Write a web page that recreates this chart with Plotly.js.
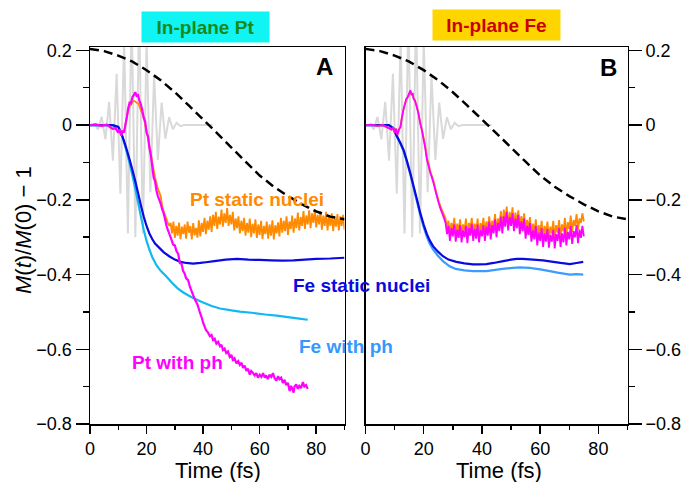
<!DOCTYPE html>
<html>
<head>
<meta charset="utf-8">
<script src="https://cdn.plot.ly/plotly-3.0.1.min.js"></script>
<style>html,body{margin:0;padding:0;background:#fff}#chart{width:684px;height:482px}</style>
</head>
<body>
<div id="chart"></div>
<script>
// ---------- DATA ----------
// Laser pulse (gray), shared by both panels: extremes of the field
const tPulse = [0,2.0,2.8,4.12,5.45,6.77,8.1,9.42,10.75,12.07,13.4,14.72,16.05,17.37,18.7,20.02,21.35,22.67,24.0,25.32,26.65,27.97,29.3,30.62,31.95,33.3,43.3];
const vPulse = [0,0,-0.012,0.022,-0.038,0.062,-0.095,0.137,-0.184,0.232,-0.29,0.30,-0.30,0.30,-0.29,0.228,-0.18,0.134,-0.093,0.06,-0.037,0.021,-0.011,0.006,-0.003,0,0];

// Dashed black reference curve
const tDash = [0,5,10,15,20,25,30,35,40,45,50,55,60,65,70,75,80,85,90];
const vDash = [0.204,0.198,0.186,0.17,0.147,0.12,0.088,0.052,0.015,-0.022,-0.06,-0.098,-0.135,-0.165,-0.19,-0.212,-0.231,-0.245,-0.252];

// ---- Panel A (In-plane Pt) ----
const tA_FeStatic = [0,8,10,11,12,13,14,15,16,17,18,19,20,21,22,23,24.7,26,28,30,32,34,36.5,39,41,44,48,52,56,60,64,68,72,76,80,85,90];
const vA_FeStatic = [0,0,-0.005,-0.02,-0.042,-0.066,-0.092,-0.12,-0.15,-0.182,-0.215,-0.245,-0.27,-0.29,-0.305,-0.317,-0.33,-0.34,-0.351,-0.36,-0.366,-0.369,-0.371,-0.369,-0.367,-0.364,-0.36,-0.358,-0.36,-0.361,-0.362,-0.363,-0.362,-0.36,-0.358,-0.357,-0.355];

const tA_FePh = [0,8,10,11,12,13,14,15,16,17,18,19,20,21,22,23.5,25,27,29,31,33,35.3,38,40,43,46,50,53,58,62,66,70,74,77];
const vA_FePh = [0,0,-0.005,-0.02,-0.045,-0.072,-0.102,-0.135,-0.17,-0.207,-0.245,-0.28,-0.31,-0.333,-0.353,-0.375,-0.39,-0.405,-0.422,-0.437,-0.448,-0.458,-0.468,-0.475,-0.484,-0.491,-0.496,-0.499,-0.503,-0.507,-0.51,-0.514,-0.518,-0.521];

const tA_PtPh = [0,2,4,6,7,8,9,10,10.5,11,11.5,12,12.5,13,13.5,14,14.5,15,15.5,16,16.5,17,17.5,18,18.5,19,19.5,20,20.5,21,21.5,22,22.5,23,23.5,24,24.5,25,25.5,26,26.5,27,27.5,28,28.5,29.4,30,30.6,31.2,31.8,32.4,32.9,33.5,34,34.7,35.3,36.2,37.1,38,38.8,39.5,40,
  41,41.7,42.4,43,43.5,44.1,44.7,45.3,46,46.5,47,47.6,48.2,48.8,49.4,50,50.5,51.1,51.8,52.4,53,53.6,54.1,54.7,55.3,55.9,56.5,57,57.5,58.2,58.8,59.4,60,60.6,61.2,61.8,62.3,62.9,63.5,64.1,64.7,65.3,65.9,66.5,67,67.6,68.2,68.8,69.4,70,70.6,71.1,71.5,72,72.3,72.9,73.5,74,74.6,75.3,75.8,76.4,77];
const vA_PtPh = [0,0.002,-0.002,0.001,-0.005,-0.01,-0.008,-0.02,-0.012,-0.028,-0.015,-0.02,0.0,0.02,0.045,0.06,0.058,0.075,0.08,0.088,0.078,0.08,0.065,0.055,0.04,0.02,0.01,-0.02,-0.03,-0.06,-0.08,-0.11,-0.14,-0.15,-0.175,-0.19,-0.2,-0.21,-0.225,-0.235,-0.25,-0.268,-0.28,-0.29,-0.3,-0.32,-0.322,-0.338,-0.345,-0.37,-0.372,-0.39,-0.398,-0.41,-0.415,-0.432,-0.45,-0.467,-0.48,-0.5,-0.515,-0.529,
  -0.548,-0.555,-0.565,-0.562,-0.575,-0.572,-0.585,-0.58,-0.592,-0.588,-0.602,-0.598,-0.61,-0.606,-0.62,-0.615,-0.628,-0.624,-0.638,-0.632,-0.642,-0.636,-0.65,-0.644,-0.658,-0.652,-0.668,-0.658,-0.662,-0.67,-0.664,-0.676,-0.668,-0.674,-0.664,-0.676,-0.67,-0.68,-0.668,-0.674,-0.664,-0.678,-0.684,-0.672,-0.68,-0.676,-0.69,-0.682,-0.696,-0.69,-0.712,-0.698,-0.705,-0.716,-0.7,-0.694,-0.706,-0.698,-0.704,-0.688,-0.7,-0.696,-0.706];

const tA_PtStaticHead = [0,2,4,6,7,8,9,10,10.5,11,11.5,12,12.5,13,13.5,14,14.5,15,15.5,16,16.5,17,17.5,18,18.5,19,19.5,20,20.5,21,21.5,22,22.5,23,23.5,24,24.5,25,25.5,26,26.5,27,27.5,28];
const vA_PtStaticHead = [0,0.002,-0.002,0.001,-0.005,-0.01,-0.008,-0.02,-0.012,-0.028,-0.015,-0.02,0.0,0.02,0.038,0.05,0.055,0.062,0.065,0.063,0.06,0.058,0.05,0.04,0.03,0.018,0.002,-0.015,-0.035,-0.055,-0.075,-0.1,-0.12,-0.14,-0.155,-0.17,-0.18,-0.19,-0.215,-0.23,-0.24,-0.25,-0.262,-0.27];
// fast-oscillating tail, sampled every 0.5 fs from 28.5 fs
const tA_PtStaticTail0 = 28.5;
const vA_PtStaticTail = [
-0.262,-0.29,-0.258,-0.302,-0.27,-0.296,-0.261,-0.305,-0.272,-0.292,
-0.266,-0.304,-0.258,-0.288,-0.27,-0.306,-0.262,-0.295,-0.275,-0.301,
-0.255,-0.298,-0.262,-0.286,-0.248,-0.292,-0.256,-0.28,-0.244,-0.286,
-0.24,-0.27,-0.232,-0.278,-0.245,-0.266,-0.226,-0.272,-0.236,-0.262,
-0.222,-0.27,-0.24,-0.266,-0.232,-0.282,-0.25,-0.276,-0.244,-0.29,
-0.256,-0.284,-0.248,-0.296,-0.262,-0.288,-0.25,-0.3,-0.264,-0.29,
-0.252,-0.302,-0.266,-0.294,-0.256,-0.305,-0.27,-0.292,-0.258,-0.304,
-0.266,-0.296,-0.255,-0.306,-0.268,-0.29,-0.26,-0.298,-0.248,-0.288,
-0.256,-0.284,-0.244,-0.294,-0.258,-0.278,-0.242,-0.288,-0.25,-0.276,
-0.234,-0.282,-0.246,-0.27,-0.23,-0.278,-0.242,-0.266,-0.228,-0.276,
-0.236,-0.262,-0.226,-0.274,-0.24,-0.266,-0.23,-0.28,-0.242,-0.27,
-0.232,-0.282,-0.244,-0.27,-0.236,-0.284,-0.246,-0.272,-0.238,-0.282,
-0.244,-0.27,-0.24,-0.28];

// ---- Panel B (In-plane Fe) ----
const tB_FeStatic = [0,8,9.5,10.8,12,13.1,14.2,15.4,16.5,17.7,18.8,20,21,22,23.2,24.8,26.6,28.5,31.2,34,36.9,39,41.5,44,47.3,50,51.9,54,57.6,61,64.5,67,70.2,72.5,74.8];
const vB_FeStatic = [0,0,-0.008,-0.03,-0.048,-0.067,-0.095,-0.129,-0.163,-0.2,-0.235,-0.267,-0.29,-0.308,-0.324,-0.338,-0.351,-0.36,-0.366,-0.37,-0.373,-0.373,-0.372,-0.369,-0.364,-0.36,-0.358,-0.358,-0.36,-0.362,-0.366,-0.369,-0.372,-0.369,-0.366];

const tB_FePh = [0,8,9.5,10.8,12,13.1,14.2,15.4,16.5,17.7,18.8,20,21,22,23.2,24.8,26.6,28.9,31,34,36.9,41.5,44,47,50.7,53,56.4,60,63.3,66,70.2,72.5,74.8];
const vB_FePh = [0,0,-0.008,-0.031,-0.05,-0.07,-0.098,-0.132,-0.167,-0.205,-0.24,-0.273,-0.297,-0.316,-0.333,-0.349,-0.364,-0.378,-0.385,-0.389,-0.391,-0.391,-0.388,-0.385,-0.382,-0.381,-0.382,-0.386,-0.391,-0.395,-0.4,-0.399,-0.4];

const tB_PtHead = [0,2,4,6,7,8,9,9.5,10,10.5,11,11.5,12,12.5,13,13.5,14,14.5,15,15.4,15.8,16.2,16.5,17,17.6,18.2,18.8,19.4,20,20.5,21.1,21.7,22.3,22.8,23.4,24,24.5,25.2,25.8,26.3,27];
const vB_PtPhHead = [0,0.001,-0.002,0.0,-0.004,-0.008,-0.012,-0.006,-0.02,-0.01,-0.025,-0.012,-0.005,0.02,0.04,0.055,0.07,0.075,0.085,0.093,0.082,0.084,0.071,0.065,0.049,0.03,0.004,-0.015,-0.04,-0.06,-0.093,-0.11,-0.129,-0.14,-0.156,-0.175,-0.19,-0.21,-0.225,-0.235,-0.25];
const vB_PtStaticHead = [0,0.001,-0.002,0.0,-0.004,-0.008,-0.012,-0.006,-0.02,-0.01,-0.025,-0.012,-0.005,0.02,0.04,0.055,0.068,0.074,0.083,0.09,0.082,0.083,0.072,0.066,0.05,0.032,0.007,-0.012,-0.036,-0.056,-0.088,-0.105,-0.124,-0.136,-0.15,-0.17,-0.185,-0.205,-0.218,-0.228,-0.24];
// fast-oscillating tails, sampled every 0.5 fs from 27.5 fs
const tB_Tail0 = 27.5;
const vB_PtPhTail = [
-0.262,-0.292,-0.27,-0.31,-0.276,-0.298,-0.266,-0.312,-0.28,-0.302,
-0.268,-0.314,-0.282,-0.3,-0.27,-0.316,-0.276,-0.296,-0.264,-0.31,
-0.278,-0.304,-0.266,-0.314,-0.28,-0.298,-0.268,-0.31,-0.272,-0.296,
-0.258,-0.306,-0.268,-0.29,-0.252,-0.3,-0.262,-0.284,-0.245,-0.29,
-0.244,-0.272,-0.232,-0.282,-0.246,-0.27,-0.236,-0.284,-0.25,-0.276,
-0.24,-0.292,-0.258,-0.284,-0.25,-0.304,-0.27,-0.294,-0.262,-0.312,
-0.282,-0.306,-0.27,-0.322,-0.288,-0.31,-0.276,-0.326,-0.29,-0.312,
-0.278,-0.328,-0.294,-0.312,-0.28,-0.33,-0.292,-0.31,-0.276,-0.326,
-0.29,-0.314,-0.274,-0.322,-0.286,-0.306,-0.27,-0.318,-0.284,-0.3,
-0.268,-0.316,-0.28,-0.302,-0.27,-0.298];
const vB_PtStaticTail = [
-0.25,-0.276,-0.256,-0.292,-0.262,-0.28,-0.248,-0.294,-0.264,-0.284,
-0.252,-0.296,-0.266,-0.282,-0.25,-0.294,-0.262,-0.278,-0.248,-0.292,
-0.264,-0.286,-0.25,-0.296,-0.262,-0.28,-0.248,-0.29,-0.258,-0.278,
-0.244,-0.288,-0.256,-0.272,-0.238,-0.284,-0.25,-0.268,-0.23,-0.276,
-0.226,-0.258,-0.218,-0.27,-0.232,-0.256,-0.22,-0.268,-0.234,-0.262,
-0.228,-0.276,-0.244,-0.268,-0.236,-0.288,-0.254,-0.278,-0.246,-0.296,
-0.264,-0.288,-0.252,-0.302,-0.268,-0.29,-0.256,-0.304,-0.27,-0.292,
-0.258,-0.306,-0.272,-0.29,-0.256,-0.302,-0.268,-0.288,-0.254,-0.298,
-0.266,-0.284,-0.248,-0.294,-0.26,-0.278,-0.242,-0.286,-0.254,-0.27,
-0.238,-0.28,-0.25,-0.262,-0.236,-0.258];

const xTicks = [0,20,40,60,80];
const yTicks = [0.2,0,-0.2,-0.4,-0.6,-0.8];

// ---------- helpers ----------
function tailTimes(t0, vals, step){ return vals.map((_, i) => t0 + i*step); }
const SAMPLE_STEP = 0.5;
const tA_Static = tA_PtStaticHead.concat(tailTimes(tA_PtStaticTail0, vA_PtStaticTail, SAMPLE_STEP));
const vA_Static = vA_PtStaticHead.concat(vA_PtStaticTail);
const tB_PtPh = tB_PtHead.concat(tailTimes(tB_Tail0, vB_PtPhTail, SAMPLE_STEP));
const vB_PtPh = vB_PtPhHead.concat(vB_PtPhTail);
const tB_PtSt = tB_PtHead.concat(tailTimes(tB_Tail0, vB_PtStaticTail, SAMPLE_STEP));
const vB_PtSt = vB_PtStaticHead.concat(vB_PtStaticTail);

const C = {
  gray:'#d9d9d9', orange:'#ff8a00', magenta:'#ff00ff', blue:'#0a0ae0',
  cyanA:'#12b8f0', lightB:'#3a9cff', black:'#000000'
};
function ln(x, y, color, xa, ya, w, dash){
  return {x:x, y:y, type:'scatter', mode:'lines', xaxis:xa, yaxis:ya, hoverinfo:'skip',
    line:{color:color, width:w||2, dash:dash||'solid', simplify:false}, showlegend:false};
}

const traces = [
  ln(tPulse, vPulse, C.gray, 'x', 'y', 2),
  ln(tA_FePh, vA_FePh, C.cyanA, 'x', 'y', 2.2),
  ln(tA_FeStatic, vA_FeStatic, C.blue, 'x', 'y', 2.2),
  ln(tA_Static, vA_Static, C.orange, 'x', 'y', 1.8),
  ln(tA_PtPh, vA_PtPh, C.magenta, 'x', 'y', 2.2),
  ln(tDash, vDash, C.black, 'x', 'y', 2.5, '9px,5px'),

  ln(tPulse, vPulse, C.gray, 'x2', 'y2', 2),
  ln(tB_FePh, vB_FePh, C.lightB, 'x2', 'y2', 2.2),
  ln(tB_FeStatic, vB_FeStatic, C.blue, 'x2', 'y2', 2.2),
  ln(tB_PtSt, vB_PtSt, C.orange, 'x2', 'y2', 1.8),
  ln(tB_PtPh, vB_PtPh, C.magenta, 'x2', 'y2', 1.8),
  ln(tDash, vDash, C.black, 'x2', 'y2', 2.5, '9px,5px')
];

const FONT = 'Liberation Sans, Arial, Helvetica, sans-serif';
const xBase = {
  range:[0,90], showgrid:false, zeroline:false, showline:true, mirror:true,
  linecolor:'#000', linewidth:1.5, ticks:'outside', ticklen:8, tickwidth:1.5, tickcolor:'#000',
  tickvals:xTicks, ticktext:xTicks.map(String), tickfont:{size:18, color:'#000', family:FONT},
  minor:{dtick:10, tick0:0, ticks:'outside', ticklen:4, tickwidth:1.5, tickcolor:'#000', showgrid:false},
  fixedrange:true
};
const yBase = {
  range:[-0.8,0.209], showgrid:false, zeroline:false, showline:true, mirror:true,
  linecolor:'#000', linewidth:1.5, ticks:'outside', ticklen:13, tickwidth:1.5, tickcolor:'#000',
  tickvals:yTicks, ticktext:yTicks.map(v => v === 0 ? '0' : (v < 0 ? '\u2212' + Math.abs(v).toFixed(1) : v.toFixed(1))),
  tickfont:{size:18, color:'#000', family:FONT},
  minor:{dtick:0.1, tick0:0, ticks:'outside', ticklen:6, tickwidth:1.5, tickcolor:'#000', showgrid:false},
  fixedrange:true
};

function px2x(p){ return p/684; }
function px2y(p){ return 1 - p/482; }

const annotations = [
  {text:'<b>In-plane Pt</b>', xref:'paper', yref:'paper', x:px2x(205.5), y:px2y(27), showarrow:false,
   font:{size:19, color:'#178a17', family:FONT}, bgcolor:'#10f4f4', width:127, height:30, borderpad:0, xanchor:'center', yanchor:'middle'},
  {text:'<b>In-plane Fe</b>', xref:'paper', yref:'paper', x:px2x(496.5), y:px2y(25), showarrow:false,
   font:{size:19, color:'#cc0000', family:FONT}, bgcolor:'#ffd500', width:127, height:30, borderpad:0, xanchor:'center', yanchor:'middle'},
  {text:'<b>A</b>', xref:'paper', yref:'paper', x:px2x(324), y:px2y(66.5), showarrow:false,
   font:{size:24, color:'#000', family:FONT}, xanchor:'center', yanchor:'middle'},
  {text:'<b>B</b>', xref:'paper', yref:'paper', x:px2x(608), y:px2y(67.5), showarrow:false,
   font:{size:24, color:'#000', family:FONT}, xanchor:'center', yanchor:'middle'},
  {text:'<b>Pt static nuclei</b>', xref:'paper', yref:'paper', x:px2x(257), y:px2y(199.5), showarrow:false,
   font:{size:19, color:C.orange, family:FONT}, xanchor:'center', yanchor:'middle'},
  {text:'<b>Fe static nuclei</b>', xref:'paper', yref:'paper', x:px2x(361.3), y:px2y(285.5), showarrow:false,
   font:{size:19, color:'#0a0ae0', family:FONT}, xanchor:'center', yanchor:'middle'},
  {text:'<b>Fe with ph</b>', xref:'paper', yref:'paper', x:px2x(345.5), y:px2y(346), showarrow:false,
   font:{size:19, color:'#3399ff', family:FONT}, xanchor:'center', yanchor:'middle'},
  {text:'<b>Pt with ph</b>', xref:'paper', yref:'paper', x:px2x(177.5), y:px2y(362), showarrow:false,
   font:{size:19, color:C.magenta, family:FONT}, xanchor:'center', yanchor:'middle'},
  {text:'<i>M</i>(<i>t</i>)/<i>M</i>(0) \u2212 1', xref:'paper', yref:'paper', x:px2x(23), y:px2y(230), showarrow:false,
   textangle:-90, font:{size:22, color:'#000', family:FONT}, xanchor:'center', yanchor:'middle'},
  {text:'Time (fs)', xref:'paper', yref:'paper', x:px2x(218), y:px2y(470), showarrow:false,
   font:{size:22, color:'#000', family:FONT}, xanchor:'center', yanchor:'middle'},
  {text:'Time (fs)', xref:'paper', yref:'paper', x:px2x(499), y:px2y(470), showarrow:false,
   font:{size:22, color:'#000', family:FONT}, xanchor:'center', yanchor:'middle'}
];

const layout = {
  width:684, height:482, margin:{l:0, r:0, t:0, b:0, pad:0},
  paper_bgcolor:'#fff', plot_bgcolor:'#fff', showlegend:false, hovermode:false,
  font:{family:FONT, color:'#000'},
  xaxis: Object.assign({}, xBase, {domain:[90/684, 344.5/684], anchor:'y'}),
  yaxis: Object.assign({}, yBase, {domain:[1-424/482, 1-47/482], anchor:'x', side:'left'}),
  xaxis2: Object.assign({}, xBase, {domain:[365.5/684, 627.5/684], anchor:'y2'}),
  yaxis2: Object.assign({}, yBase, {domain:[1-424/482, 1-47/482], anchor:'x2', side:'right'}),
  annotations: annotations
};

Plotly.newPlot('chart', traces, layout, {staticPlot:true, displayModeBar:false});
</script>
</body>
</html>
